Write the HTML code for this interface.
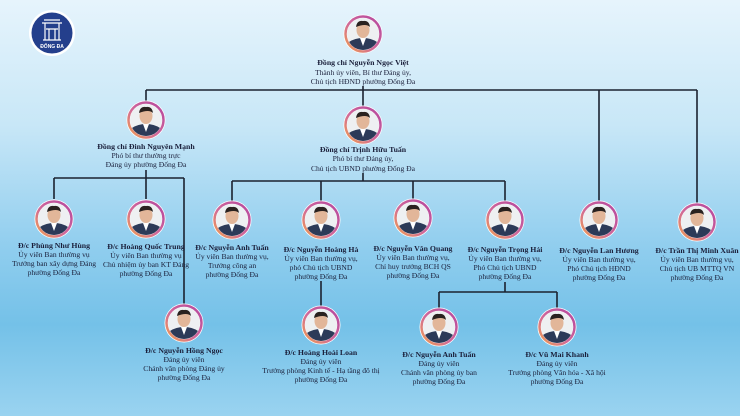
<!DOCTYPE html>
<html><head><meta charset="utf-8"><style>
html,body{margin:0;padding:0;width:740px;height:416px;overflow:hidden}
body{background:linear-gradient(180deg,#e6f4fc 0%,#c8e7f7 30%,#8fcdee 60%,#74c1e8 78%,#9ad3f0 100%)}
svg{display:block}
text{font-family:"Liberation Serif",serif;font-size:7.6px;fill:#1a1f3a;text-anchor:middle}
.n{font-weight:bold;font-size:7.8px}
</style></head><body>
<svg width="740" height="416" viewBox="0 0 740 416" xmlns="http://www.w3.org/2000/svg">
<defs>
<linearGradient id="ring" x1="1" y1="0" x2="0" y2="1"><stop offset="0" stop-color="#b4469e"/><stop offset="0.55" stop-color="#d0689a"/><stop offset="1" stop-color="#f0a050"/></linearGradient>
<symbol id="p" viewBox="-20 -20 40 40">
<circle r="19.5" fill="#fff"/>
<circle r="17.5" fill="none" stroke="url(#ring)" stroke-width="2.5"/>
<clipPath id="cc"><circle r="16"/></clipPath>
<g clip-path="url(#cc)">
<rect x="-16" y="-16" width="32" height="32" fill="#eef0f2"/>
<path d="M-16 16 L-14 8 Q-8 4 0 4 Q8 4 14 8 L16 16Z" fill="#2c3a58"/>
<path d="M-3 4 L0 12 L3 4Z" fill="#fff"/>
<ellipse cx="0" cy="-4" rx="6.5" ry="8" fill="#e2b699"/>
<path d="M-7 -7 Q-6 -14 0 -13 Q6 -14 7 -7 Q3 -11 -7 -7Z" fill="#2a2220"/>
</g>
</symbol>
</defs>
<g stroke="#1b2230" stroke-width="1.6" fill="none">
<path d="M146 90 H697"/><path d="M146 90 V101"/><path d="M363 86 V106"/>
<path d="M599 90 V201"/><path d="M697 90 V203"/>
<path d="M146 170 V178 M54 178 H184 M54 178 V199 M146 178 V199 M184 178 V304"/>
<path d="M363 173 V181 M232 181 H505 M232 181 V201 M321 181 V201 M413 181 V199 M505 181 V201"/>
<path d="M321 281 V306"/>
<path d="M505 282 V292 M439 292 H557 M439 292 V308 M557 292 V308"/>
</g>
<circle cx="52" cy="33" r="23" fill="#fff"/>
<circle cx="52" cy="33" r="20.5" fill="#243f8c"/>
<g stroke="#fff" stroke-width="1.2" fill="none">
<path d="M44 20 H60 M42 23 H62 M45 23 V40 M59 23 V40 M43 40 H61 M49 29 V40 M55 29 V40 M46 29 H58"/>
</g>
<text x="52" y="48" style="fill:#fff;font-size:5px;font-weight:bold;font-family:'Liberation Sans',sans-serif">ĐỐNG ĐA</text>

<use href="#p" x="343" y="14" width="40" height="40"/>
<text class="n" x="363" y="65">Đồng chí Nguyễn Ngọc Việt</text>
<text x="363" y="75">Thành ủy viên, Bí thư Đảng ủy,</text>
<text x="363" y="84">Chủ tịch HĐND phường Đống Đa</text>

<use href="#p" x="126" y="100" width="40" height="40"/>
<text class="n" x="146" y="149">Đồng chí Đinh Nguyên Mạnh</text>
<text x="146" y="158">Phó bí thư thường trực</text>
<text x="146" y="167">Đảng ủy phường Đống Đa</text>

<use href="#p" x="343" y="105" width="40" height="40"/>
<text class="n" x="363" y="152">Đồng chí Trịnh Hữu Tuấn</text>
<text x="363" y="161">Phó bí thư Đảng ủy,</text>
<text x="363" y="171">Chủ tịch UBND phường Đống Đa</text>

<use href="#p" x="34" y="199" width="40" height="40"/>
<text class="n" x="54" y="248">Đ/c Phùng Như Hùng</text>
<text x="54" y="257">Ủy viên Ban thường vụ</text>
<text x="54" y="266">Trưởng ban xây dựng Đảng</text>
<text x="54" y="275">phường Đống Đa</text>

<use href="#p" x="126" y="199" width="40" height="40"/>
<text class="n" x="146" y="249">Đ/c Hoàng Quốc Trung</text>
<text x="146" y="258">Ủy viên Ban thường vụ</text>
<text x="146" y="267">Chủ nhiệm ủy ban KT Đảng</text>
<text x="146" y="276">phường Đống Đa</text>

<use href="#p" x="212" y="200" width="40" height="40"/>
<text class="n" x="232" y="250">Đ/c Nguyễn Anh Tuấn</text>
<text x="232" y="259">Ủy viên Ban thường vụ,</text>
<text x="232" y="268">Trưởng công an</text>
<text x="232" y="277">phường Đống Đa</text>

<use href="#p" x="301" y="200" width="40" height="40"/>
<text class="n" x="321" y="252">Đ/c Nguyễn Hoàng Hà</text>
<text x="321" y="261">Ủy viên Ban thường vụ,</text>
<text x="321" y="270">phó Chủ tịch UBND</text>
<text x="321" y="279">phường Đống Đa</text>

<use href="#p" x="393" y="198" width="40" height="40"/>
<text class="n" x="413" y="251">Đ/c Nguyễn Văn Quang</text>
<text x="413" y="260">Ủy viên Ban thường vụ,</text>
<text x="413" y="269">Chỉ huy trưởng BCH QS</text>
<text x="413" y="278">phường Đống Đa</text>

<use href="#p" x="485" y="200" width="40" height="40"/>
<text class="n" x="505" y="252">Đ/c Nguyễn Trọng Hải</text>
<text x="505" y="261">Ủy viên Ban thường vụ,</text>
<text x="505" y="270">Phó Chủ tịch UBND</text>
<text x="505" y="279">phường Đống Đa</text>

<use href="#p" x="579" y="200" width="40" height="40"/>
<text class="n" x="599" y="253">Đ/c Nguyễn Lan Hương</text>
<text x="599" y="262">Ủy viên Ban thường vụ,</text>
<text x="599" y="271">Phó Chủ tịch HĐND</text>
<text x="599" y="280">phường Đống Đa</text>

<use href="#p" x="677" y="202" width="40" height="40"/>
<text class="n" x="697" y="253">Đ/c Trần Thị Minh Xuân</text>
<text x="697" y="262">Ủy viên Ban thường vụ,</text>
<text x="697" y="271">Chủ tịch UB MTTQ VN</text>
<text x="697" y="280">phường Đống Đa</text>

<use href="#p" x="164" y="303" width="40" height="40"/>
<text class="n" x="184" y="353">Đ/c Nguyễn Hồng Ngọc</text>
<text x="184" y="362">Đảng ủy viên</text>
<text x="184" y="371">Chánh văn phòng Đảng ủy</text>
<text x="184" y="380">phường Đống Đa</text>

<use href="#p" x="301" y="305" width="40" height="40"/>
<text class="n" x="321" y="355">Đ/c Hoàng Hoài Loan</text>
<text x="321" y="364">Đảng ủy viên</text>
<text x="321" y="373">Trưởng phòng Kinh tế - Hạ tầng đô thị</text>
<text x="321" y="382">phường Đống Đa</text>

<use href="#p" x="419" y="307" width="40" height="40"/>
<text class="n" x="439" y="357">Đ/c Nguyễn Anh Tuấn</text>
<text x="439" y="366">Đảng ủy viên</text>
<text x="439" y="375">Chánh văn phòng ủy ban</text>
<text x="439" y="384">phường Đống Đa</text>

<use href="#p" x="537" y="307" width="40" height="40"/>
<text class="n" x="557" y="357">Đ/c Vũ Mai Khanh</text>
<text x="557" y="366">Đảng ủy viên</text>
<text x="557" y="375">Trưởng phòng Văn hóa - Xã hội</text>
<text x="557" y="384">phường Đống Đa</text>
</svg>
</body></html>
